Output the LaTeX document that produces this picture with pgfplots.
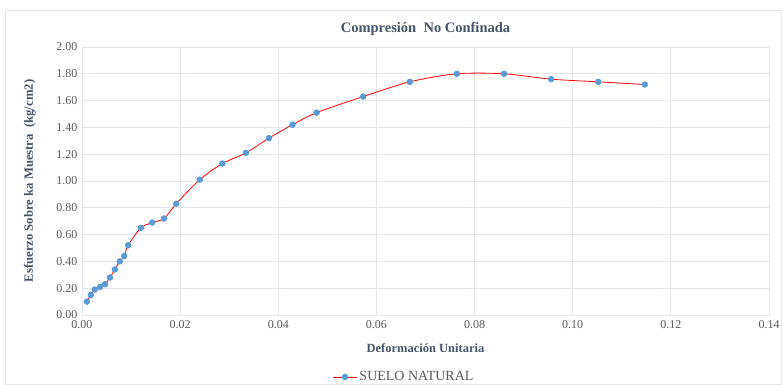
\documentclass[border=0pt]{standalone}
\usepackage{pgfplots}
\pgfplotsset{compat=1.18}
\usepackage{fontspec}
\setmainfont{Liberation Serif}
\definecolor{titlec}{HTML}{44546A}
\definecolor{tickc}{HTML}{595959}
\definecolor{gridc}{HTML}{E3E6EC}
\definecolor{markc}{HTML}{5B9BD5}
\definecolor{linec}{HTML}{FF0000}
\begin{document}
\begin{tikzpicture}[x=1pt,y=1pt]
\path[use as bounding box] (0,0) rectangle (782,385);
\draw[gridc, line width=0.8pt] (5,0.5) rectangle (781.5,375);
\begin{axis}[
  at={(82pt,70pt)}, anchor=south west,
  width=687pt, height=268pt, scale only axis,
  xmin=0, xmax=0.14, ymin=0, ymax=2,
  xtick={0,0.02,...,0.14}, ytick={0,0.2,...,2.0},
  /pgf/number format/assume math mode=true,
  scaled x ticks=false,
  ticklabel style={font=\fontsize{12}{14}\selectfont, text=tickc},
  xticklabel style={yshift=-2pt, /pgf/number format/.cd,fixed,fixed zerofill,precision=2},
  yticklabel style={xshift=-1pt, /pgf/number format/.cd,fixed,fixed zerofill,precision=2},
  major tick length=0pt,
  grid=major, grid style={gridc, line width=0.9pt},
  axis line style={gridc, line width=0.9pt},
  title={\textbf{Compresión\ \ No Confinada}},
  title style={font=\fontsize{14.5}{16}\selectfont, text=titlec, at={(0.5,1)}, yshift=2pt},
  xlabel={\textbf{Deformación Unitaria}},
  xlabel style={font=\fontsize{12.5}{14}\selectfont, text=titlec, yshift=-8pt},
  ylabel={\textbf{Esfuerzo Sobre ka Muestra\ \ (kg/cm2)}},
  ylabel style={font=\fontsize{12.7}{14}\selectfont, text=titlec, yshift=14pt},
  legend style={at={(322pt,-62pt)}, anchor=center, draw=none, fill=none,
    font=\fontsize{14}{16}\selectfont, text=tickc, legend columns=1},
  legend cell align=left,
  legend image code/.code={
    \draw[linec, line width=0.9pt] (0pt,0pt) -- (24pt,0pt);
    \fill[markc] (12pt,0pt) circle (2.8pt);
  },
]
\addplot[linec, line width=0.8pt, smooth, tension=0.5,
  mark=*, mark size=2.8pt, mark options={draw=markc, fill=markc}]
coordinates {
(0.0010,0.10) (0.0018,0.15) (0.0026,0.19) (0.0037,0.21) (0.0047,0.23)
(0.0057,0.28) (0.0067,0.34) (0.0077,0.40) (0.0086,0.44) (0.0094,0.52)
(0.0120,0.65) (0.0143,0.69) (0.0167,0.72) (0.0192,0.83) (0.0240,1.01)
(0.0286,1.13) (0.0334,1.21) (0.0381,1.32) (0.0429,1.42) (0.0478,1.51)
(0.0573,1.63) (0.0668,1.74) (0.0764,1.80) (0.0860,1.80) (0.0956,1.76)
(0.1052,1.74) (0.1147,1.72)
};
\addlegendentry{SUELO NATURAL}
\end{axis}
\end{tikzpicture}
\end{document}
